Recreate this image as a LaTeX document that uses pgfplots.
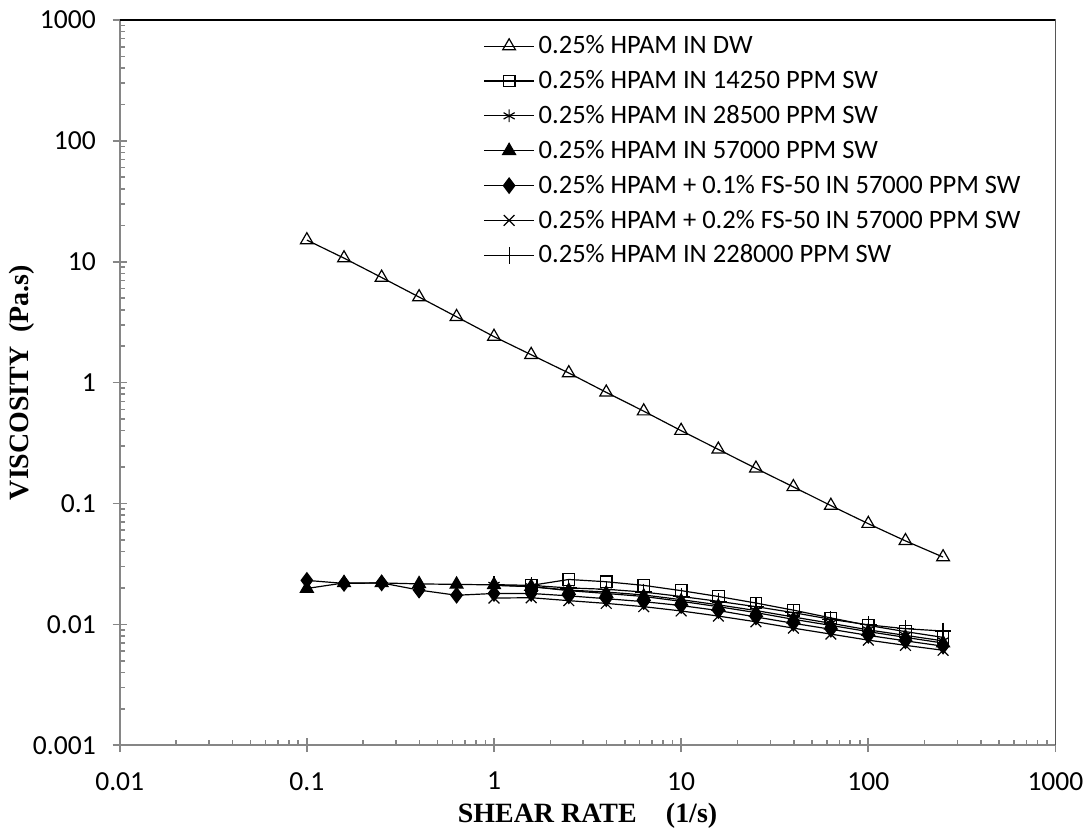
\documentclass[border=0pt]{standalone}
\usepackage{pgfplots}
\pgfplotsset{compat=1.18}
\usepackage{fontspec}
\setmainfont{Carlito}
\newfontfamily\tnr{Liberation Serif}
\definecolor{axgray}{RGB}{134,134,134}
\begin{document}
\begin{tikzpicture}
\begin{axis}[
  name=ax,
  scale only axis,
  width=469pt, height=363.5pt,
  xmode=log, ymode=log,
  xmin=0.01, xmax=1000, ymin=0.001, ymax=1000,
  xtick={0.01,0.1,1,10,100,1000},
  xticklabels={0.01,0.1,1,10,100,1000},
  ytick={0.001,0.01,0.1,1,10,100,1000},
  yticklabels={0.001,0.01,0.1,1,10,100,1000},
  xtick pos=bottom, ytick pos=left,
  tick align=center,
  major tick length=7pt,
  minor tick length=2.5pt,
  minor x tick style={yshift=1.25pt},
  minor y tick style={xshift=1.25pt},
  tick style={axgray, line width=0.8pt},
  axis line style={axgray, line width=0.9pt},
  tick label style={font=\fontsize{13.8}{15}\selectfont},
  xticklabel style={yshift=-6.5pt},
  yticklabel style={xshift=-5pt},
  xlabel={\tnr\bfseries\fontsize{14}{16}\selectfont SHEAR RATE\hspace{1.05em}(1/s)},
  ylabel={\tnr\bfseries\fontsize{14}{16}\selectfont VISCOSITY~~(Pa.s)},
  xlabel style={at={(axis description cs:0.5,-0.0975)}, anchor=center},
  ylabel style={at={(axis description cs:-0.1045,0.5)}, anchor=center, rotate=0},
  legend style={at={(axis description cs:0.382,0.99)}, anchor=north west, draw=none, fill=none,
    font=\fontsize{13.3}{15}\selectfont, row sep=2.9pt},
  legend cell align=left,
  legend image code/.code={\draw[mark repeat=2,mark phase=2] plot coordinates {(0cm,0cm)(0.44cm,0cm)(0.88cm,0cm)};},
  every axis plot/.append style={black, line width=0.6pt, mark size=3.2pt, mark options={solid, line width=0.6pt}},
]
% DW
\addplot[mark=triangle, mark size=3.7pt, mark options={fill=white}] coordinates {
(0.1,15.1)(0.158,10.7)(0.251,7.4)(0.398,5.1)(0.631,3.5)(1,2.4)(1.58,1.7)(2.51,1.2)(3.98,0.83)(6.31,0.58)
(10,0.40)(15.8,0.28)(25.1,0.195)(39.8,0.137)(63.1,0.096)(100,0.068)(158,0.049)(251,0.036)};
\addlegendentry{0.25\% HPAM IN DW}
% 14250
\addplot[mark=square, mark size=2.9pt, mark options={fill=white}] coordinates {
(1.58,0.0210)(2.51,0.0235)(3.98,0.0225)(6.31,0.0210)(10,0.0190)(15.8,0.0170)(25.1,0.0150)(39.8,0.0131)
(63.1,0.0113)(100,0.0098)(158,0.0087)(251,0.0078)};
\addlegendentry{0.25\% HPAM IN 14250 PPM SW}
% 28500
\addplot[mark=asterisk] coordinates {
(1,0.0210)(1.58,0.0205)(2.51,0.0192)(3.98,0.0185)(6.31,0.0175)(10,0.0160)(15.8,0.0145)(25.1,0.0130)
(39.8,0.0115)(63.1,0.0102)(100,0.0090)(158,0.0081)(251,0.0073)};
\addlegendentry{0.25\% HPAM IN 28500 PPM SW}
% 57000
\addplot[mark=triangle*, mark size=3.7pt, mark options={fill=black}] coordinates {
(0.1,0.0198)(0.158,0.0220)(0.251,0.0220)(0.398,0.0216)(0.631,0.0214)(1,0.0212)(1.58,0.0205)(2.51,0.0190)
(3.98,0.0180)(6.31,0.0170)(10,0.0155)(15.8,0.0140)(25.1,0.0125)(39.8,0.0110)(63.1,0.0098)(100,0.0087)
(158,0.0078)(251,0.0070)};
\addlegendentry{0.25\% HPAM IN 57000 PPM SW}
% +0.1% FS-50
\addplot[mark=diamond*, mark size=3.8pt, mark options={fill=black}] coordinates {
(0.1,0.0231)(0.158,0.0218)(0.251,0.0220)(0.398,0.0192)(0.631,0.0174)(1,0.0180)(1.58,0.0180)(2.51,0.0172)
(3.98,0.0163)(6.31,0.0154)(10,0.0143)(15.8,0.0130)(25.1,0.0115)(39.8,0.0102)(63.1,0.0091)(100,0.0081)
(158,0.0073)(251,0.0066)};
\addlegendentry{0.25\% HPAM + 0.1\% FS-50 IN 57000 PPM SW}
% +0.2% FS-50
\addplot[mark=x, mark size=3.8pt] coordinates {
(1,0.0165)(1.58,0.0166)(2.51,0.0157)(3.98,0.0149)(6.31,0.0140)(10,0.0129)(15.8,0.0117)(25.1,0.0105)
(39.8,0.0093)(63.1,0.0083)(100,0.0074)(158,0.0067)(251,0.0061)};
\addlegendentry{0.25\% HPAM + 0.2\% FS-50 IN 57000 PPM SW}
% 228000
\addplot[mark=+, mark size=4.2pt] coordinates {
(1,0.0213)(1.58,0.0210)(2.51,0.0200)(3.98,0.0195)(6.31,0.0185)(10,0.0170)(15.8,0.0155)(25.1,0.0140)
(39.8,0.0125)(63.1,0.0110)(100,0.0099)(158,0.0092)(251,0.0088)};
\addlegendentry{0.25\% HPAM IN 228000 PPM SW}
\draw[black, line width=0.9pt] (rel axis cs:0,1) -- (rel axis cs:1,1) -- (rel axis cs:1,0);
\end{axis}
\path[use as bounding box] ([xshift=-60pt,yshift=-44pt]ax.south west) rectangle ([xshift=16pt,yshift=10pt]ax.north east);
\end{tikzpicture}
\end{document}
